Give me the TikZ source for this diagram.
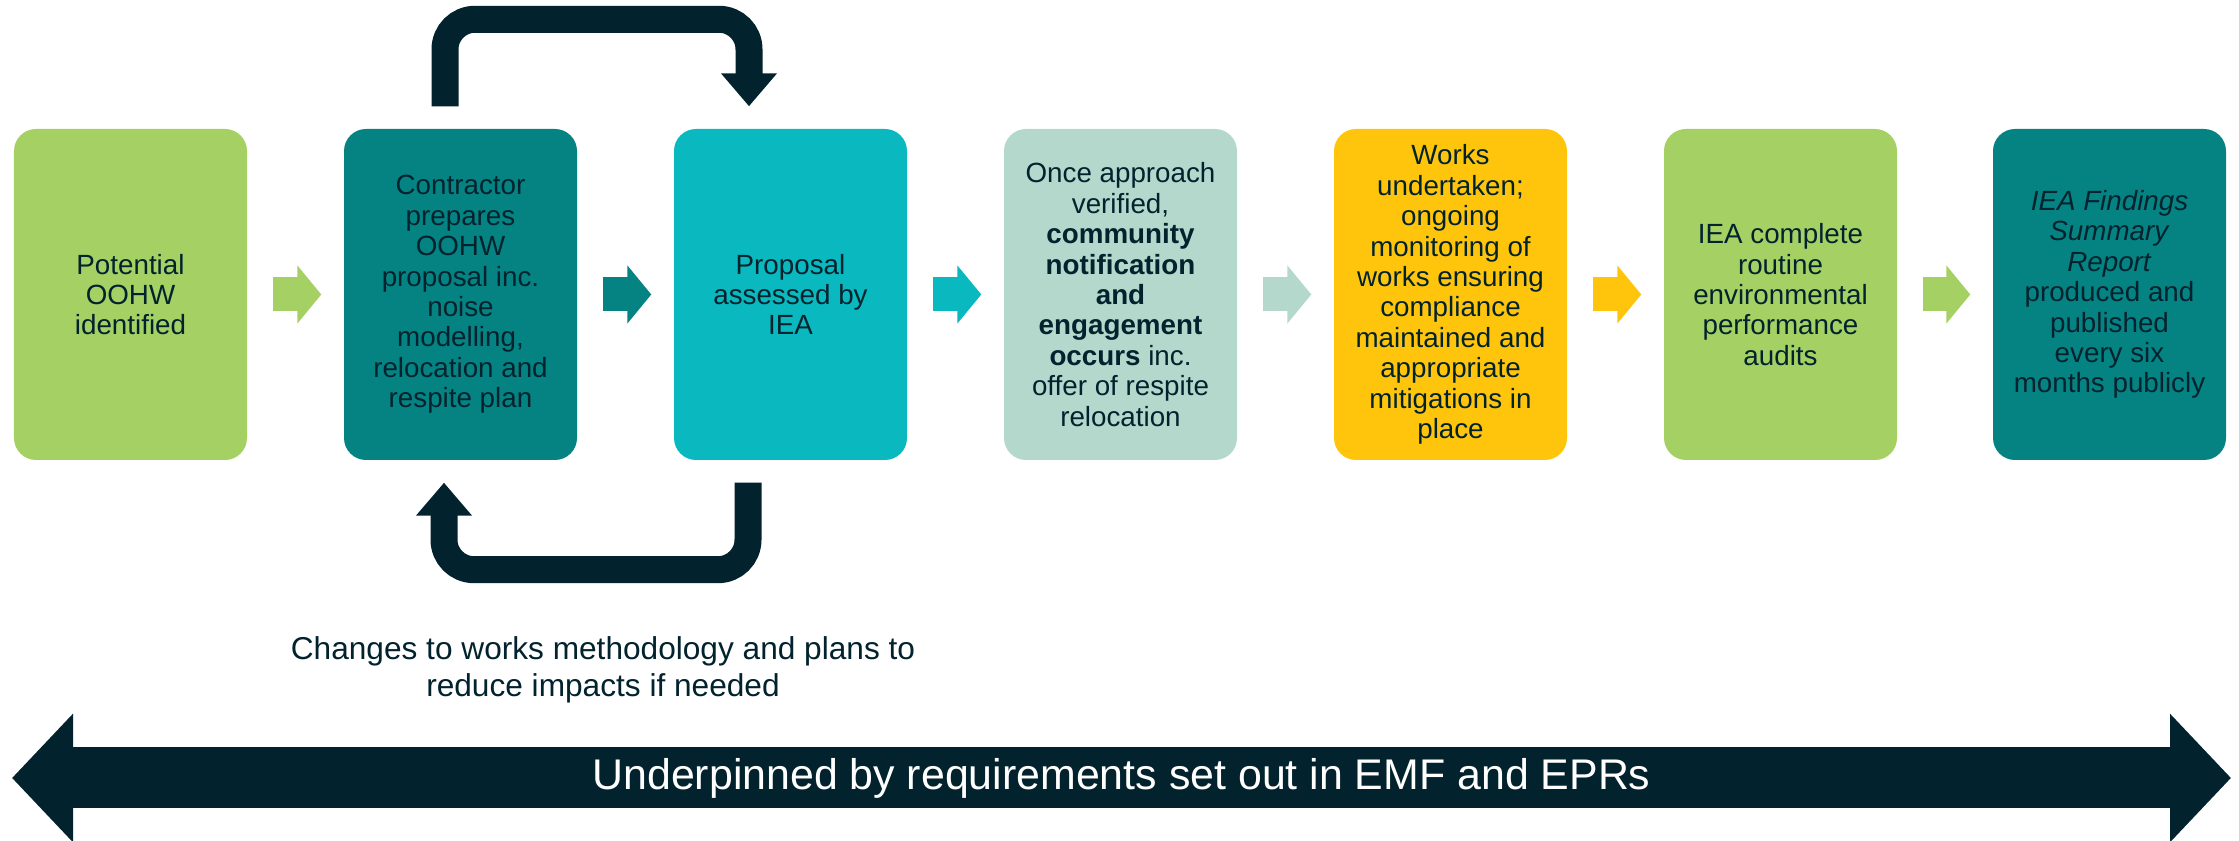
\documentclass[tikz,border=0pt]{standalone}
\usepackage{fontspec}
\setmainfont{Liberation Sans}
\usepackage{xcolor}
\definecolor{leaf}{HTML}{A5D064}
\definecolor{deepteal}{HTML}{058383}
\definecolor{aqua}{HTML}{09B9BF}
\definecolor{mint}{HTML}{B4D8CC}
\definecolor{amber}{HTML}{FFC50D}
\definecolor{ink}{HTML}{02232E}
\usepackage{tikz}
\usetikzlibrary{arrows.meta,calc,positioning}

\begin{document}
\begin{tikzpicture}[
  box/.style={draw=none, rounded corners=0.22cm, minimum width=2.33cm, minimum height=3.31cm, inner sep=0pt, text=ink, font=\fontsize{7.9}{8.65}\selectfont, align=center},
  arr/.style={-{Triangle[width=0.57cm,length=0.24cm]}, line width=0.34cm, shorten <=0.25cm, shorten >=0.22cm},
  loop/.style={-{Triangle[width=0.54cm,length=0.33cm]}, line width=0.27cm, ink, rounded corners=0.3cm},
  bigarr/.style={{Triangle[width=1.25cm,length=0.61cm]}-{Triangle[width=1.25cm,length=0.61cm]}, line width=0.61cm, ink},
  note/.style={text=ink, font=\fontsize{9}{10.6}\selectfont, align=center}
]
  \useasboundingbox (0,0) rectangle (22.39,-8.41);
  \node[box, fill=leaf] (potential) at (1.305,-2.945) {Potential\\OOHW\\identified};
  \node[box, fill=deepteal] (contractor) at (4.605,-2.945) {Contractor\\prepares\\OOHW\\proposal inc.\\noise\\modelling,\\relocation and\\respite plan};
  \node[box, fill=aqua] (proposal) at (7.905,-2.945) {Proposal\\assessed by\\IEA};
  \node[box, fill=mint] (notify) at (11.205,-2.945) {Once approach\\verified,\\\textbf{community}\\\textbf{notification}\\\textbf{and}\\\textbf{engagement}\\\textbf{occurs} inc.\\offer of respite\\relocation};
  \node[box, fill=amber] (works) at (14.505,-2.945) {Works\\undertaken;\\ongoing\\monitoring of\\works ensuring\\compliance\\maintained and\\appropriate\\mitigations in\\place};
  \node[box, fill=leaf] (audits) at (17.805,-2.945) {IEA complete\\routine\\environmental\\performance\\audits};
  \node[box, fill=deepteal] (report) at (21.095,-2.945) {\textit{IEA Findings}\\\textit{Summary}\\\textit{Report}\\produced and\\published\\every six\\months publicly};
  \node[note] (changes) at (6.03,-6.70) {Changes to works methodology and plans to\\reduce impacts if needed};
  \coordinate (uleft) at (0.12,-7.78);
  \coordinate (uright) at (22.31,-7.78);

  \draw[arr, leaf] (potential) -- (contractor);
  \draw[arr, deepteal] (contractor) -- (proposal);
  \draw[arr, aqua] (proposal) -- (notify);
  \draw[arr, mint] (notify) -- (works);
  \draw[arr, amber] (works) -- (audits);
  \draw[arr, leaf] (audits) -- (report);
  \draw[loop] ([xshift=-0.155cm,yshift=0.22cm]contractor.north) -- ++(0,0.87) -| ([xshift=-0.415cm,yshift=0.22cm]proposal.north);
  \draw[loop] ([xshift=-0.425cm,yshift=-0.22cm]proposal.south) -- ++(0,-0.87) -| ([xshift=-0.165cm,yshift=-0.22cm]contractor.south);
  \draw[bigarr] (uleft) -- node[text=white, font=\fontsize{12.2}{14}\selectfont] (underpin) {Underpinned by requirements set out in EMF and EPRs} (uright);
\end{tikzpicture}
\end{document}
